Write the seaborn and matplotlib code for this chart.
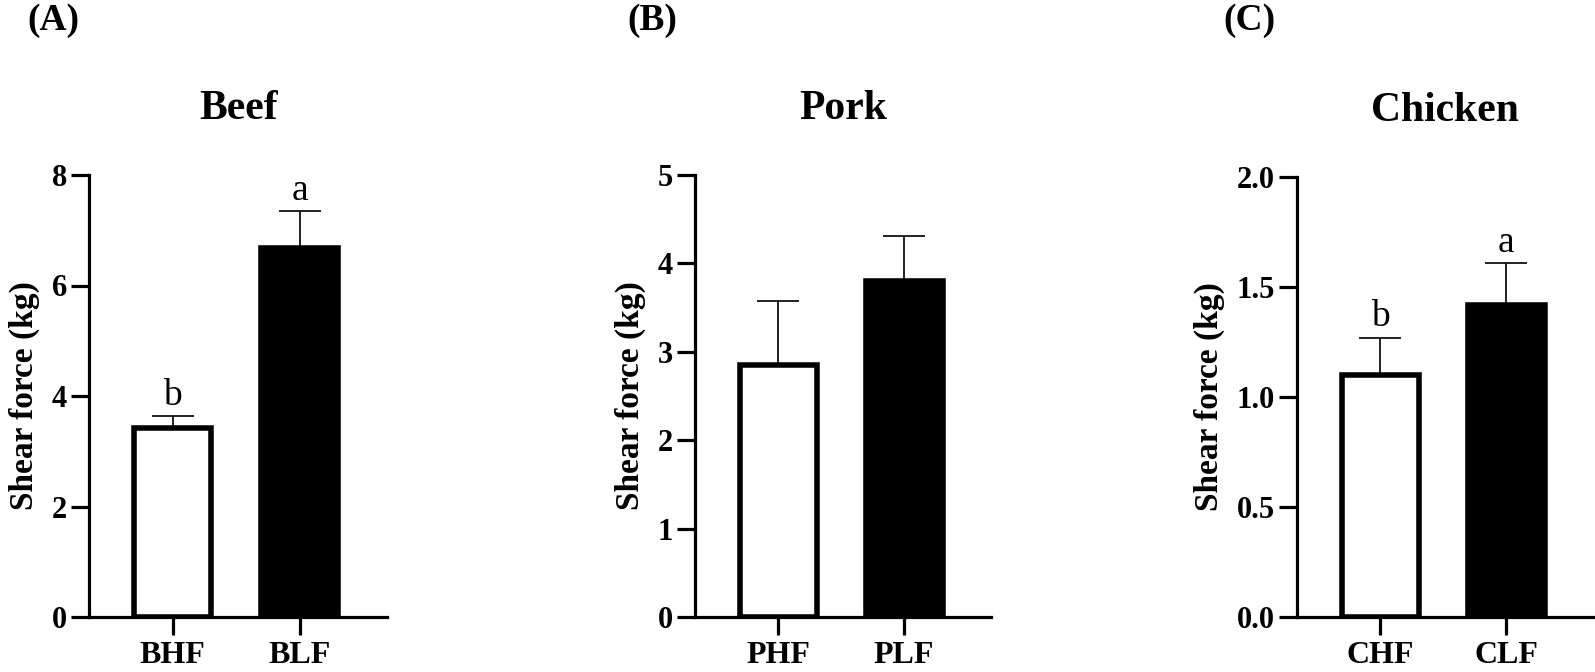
import matplotlib
matplotlib.use("Agg")
import matplotlib.pyplot as plt
import seaborn as sns
import pandas as pd
import numpy as np

# ---- data ----
panel_labels = ["(A)", "(B)", "(C)"]
titles = ["Beef", "Pork", "Chicken"]
beef_groups = ["BHF", "BLF"]
beef_means = [3.42, 6.68]
beef_sd = [0.21, 0.66]
beef_letters = ["b", "a"]
pork_groups = ["PHF", "PLF"]
pork_means = [2.85, 3.80]
pork_sd = [0.72, 0.51]
pork_letters = ["", ""]
chicken_groups = ["CHF", "CLF"]
chicken_means = [1.10, 1.42]
chicken_sd = [0.17, 0.19]
chicken_letters = ["b", "a"]
y_ticks = [[0, 2, 4, 6, 8], [0, 1, 2, 3, 4, 5], [0.0, 0.5, 1.0, 1.5, 2.0]]
y_ticklabels = [["0", "2", "4", "6", "8"], ["0", "1", "2", "3", "4", "5"],
                ["0.0", "0.5", "1.0", "1.5", "2.0"]]
ylabel = "Shear force (kg)"
bar_colors = ["white", "black"]

sns.set_style("ticks")
plt.rcParams["font.family"] = ["Liberation Serif", "DejaVu Serif"]
for k in ["text.color", "axes.labelcolor", "xtick.color", "ytick.color",
          "axes.edgecolor"]:
    plt.rcParams[k] = "black"

W, H = 1595, 672
fig = plt.figure(figsize=(W / 100, H / 100), dpi=100)

# axes pixel boxes: (left, right, top, bottom)
boxes = [(89, 387, 175, 617), (695, 991, 175, 617), (1297, 1593, 177, 617)]
label_x = [27, 627, 1223]

panels = [
    (beef_groups, beef_means, beef_sd, beef_letters),
    (pork_groups, pork_means, pork_sd, pork_letters),
    (chicken_groups, chicken_means, chicken_sd, chicken_letters),
]

for i, (groups, means, sds, letters) in enumerate(panels):
    l, r, t, b = boxes[i]
    ax = fig.add_axes([l / W, (H - b) / H, (r - l) / W, (b - t) / H])
    df = pd.DataFrame({"group": groups, "value": means})
    sns.barplot(data=df, x="group", y="value", hue="group",
                palette=bar_colors, legend=False, width=0.61,
                edgecolor="black", linewidth=4, errorbar=None, ax=ax,
                zorder=2)
    xs = np.arange(len(groups))
    ax.errorbar(xs, means, yerr=[np.zeros(len(sds)), sds], fmt="none",
                ecolor="#111111", elinewidth=1.3, capsize=15, capthick=1.3,
                zorder=1)
    for x, m, s, let in zip(xs, means, sds, letters):
        if let:
            ax.annotate(let, xy=(x, m + s), xytext=(0, 8),
                        textcoords="offset points", ha="center",
                        va="baseline", fontsize=27)
    ax.set_xlim(-0.66, 1.69)
    ax.set_ylim(y_ticks[i][0], y_ticks[i][-1])
    ax.set_yticks(y_ticks[i])
    ax.set_yticklabels(y_ticklabels[i], fontsize=22, fontweight="bold")
    ax.set_xticks(xs)
    ax.set_xticklabels(groups, fontsize=23, fontweight="bold")
    ax.set_xlabel("")
    ax.set_ylabel(ylabel, fontsize=24, fontweight="bold", labelpad=8)
    ax.set_title(titles[i], fontsize=30, fontweight="bold", pad=40)
    sns.despine(ax=ax)
    for sp in ["left", "bottom"]:
        ax.spines[sp].set_linewidth(2.3)
        ax.spines[sp].set_color("black")
        ax.spines[sp].set_zorder(3)
    ax.tick_params(axis="both", direction="out", length=13, width=2.3,
                   color="black", labelcolor="black")
    ax.tick_params(axis="y", pad=3)
    ax.tick_params(axis="x", pad=4)
    ax.set_facecolor("white")
    fig.text(label_x[i] / W, 1 - 21 / H, panel_labels[i], fontsize=27,
             fontweight="bold", ha="left", va="center")

fig.savefig("out.png", dpi=100, facecolor="white")
